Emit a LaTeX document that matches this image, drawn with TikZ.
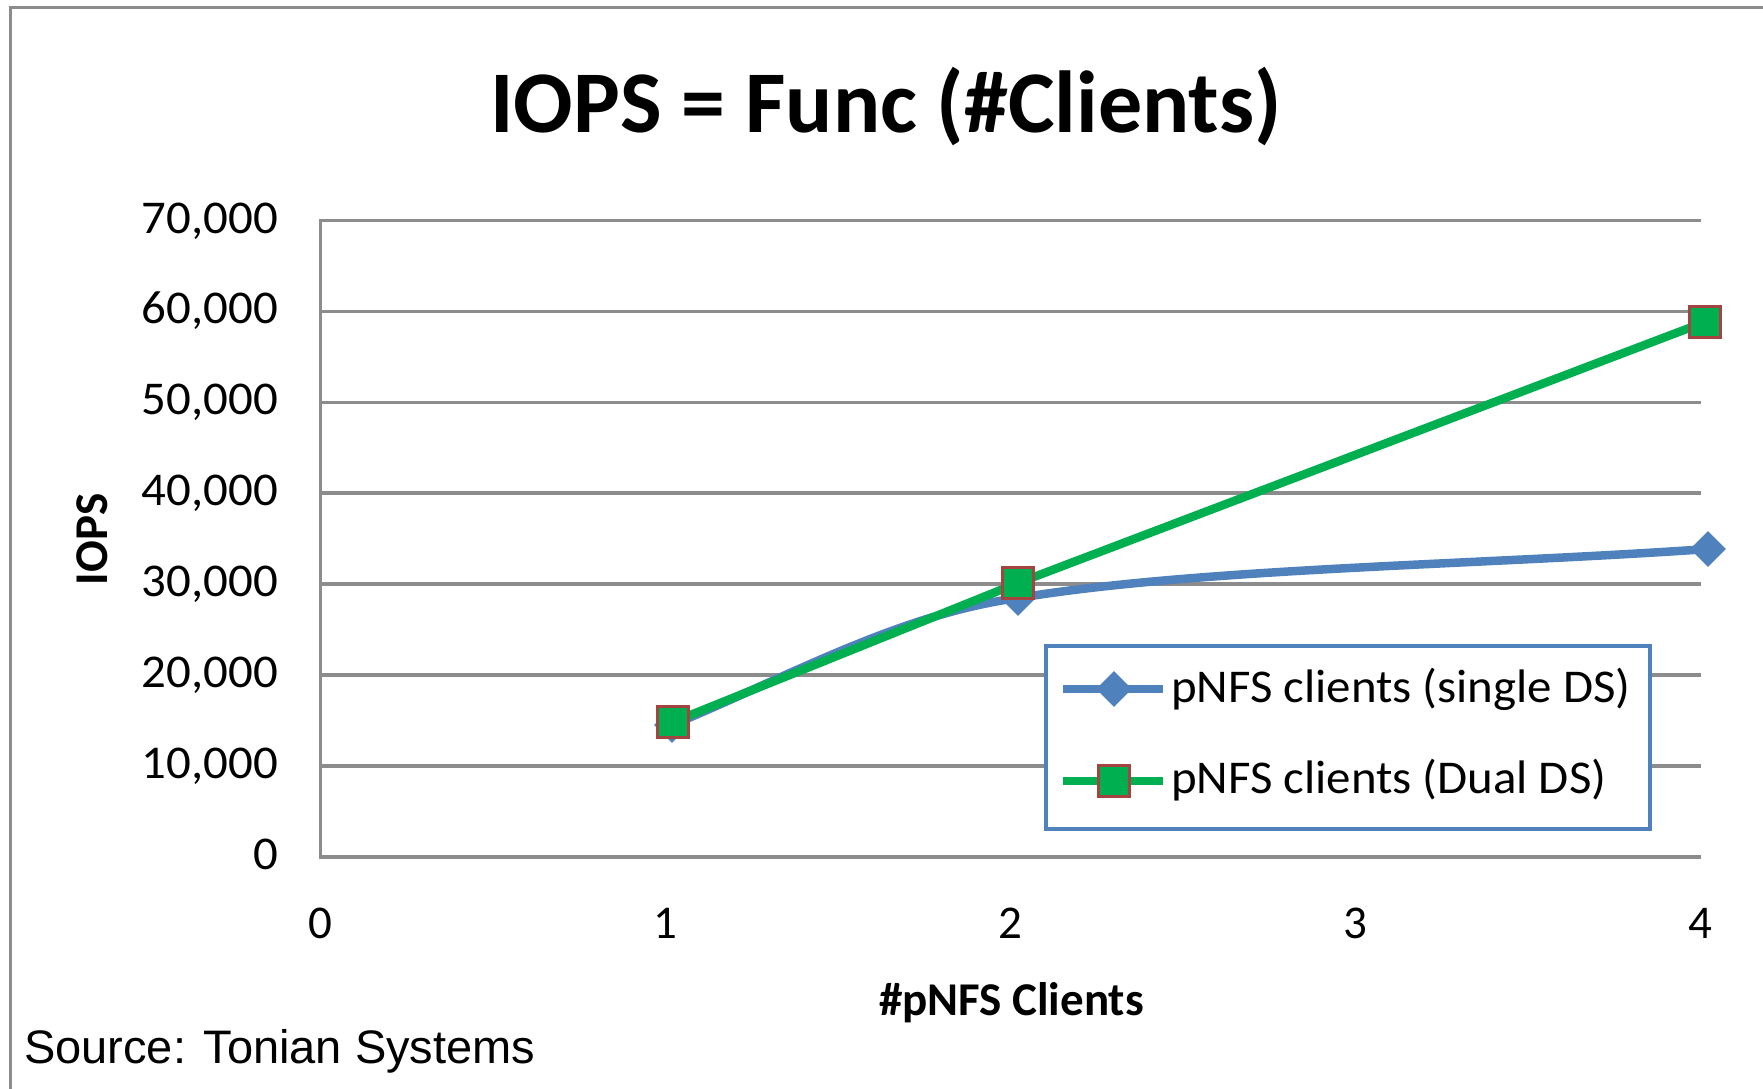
\documentclass[tikz,border=0pt]{standalone}
\usepackage{fontspec}
\setmainfont{Carlito}
\newfontfamily\arialfont{Liberation Sans}
\usetikzlibrary{shapes.geometric}
\definecolor{gridgray}{RGB}{140,140,140}
\definecolor{serblue}{RGB}{79,129,189}
\definecolor{sergreen}{RGB}{0,176,80}
\definecolor{serred}{RGB}{192,80,77}
\newcommand\setfs[1]{\fontsize{#1}{#1}\selectfont}
\newcommand\wider[1]{\scalebox{1.04}[1]{#1}}
\begin{document}
\begin{tikzpicture}[x=1pt,y=-1pt,
  gridln/.style={draw=gridgray, line width=3.5},
  ytickl/.style={anchor=base east, inner sep=0, font=\setfs{47}},
  xtickl/.style={anchor=base, inner sep=0, font=\setfs{47}},
  blueser/.style={draw=serblue, line width=8.5, line join=round},
  greenser/.style={draw=sergreen, line width=8.5, line join=round},
  markdia/.style={diamond, fill=serblue, inner sep=0, minimum size=36},
  marksq/.style={rectangle, fill=sergreen, draw=serred!85!black, line width=3, inner sep=0, minimum size=31},
  legtext/.style={anchor=base west, inner sep=0, font=\setfs{47}}]
\useasboundingbox (0,0) rectangle (1763,1088);
\fill[white] (0,0) rectangle (1763,1088);
% outer frame
\draw[draw=gridgray, line width=3] (10.5,1095) -- (10.5,7.5) -- (1770,7.5);
% title
\node[anchor=base, inner sep=0, font=\setfs{88}\bfseries] (title) at (886,132) {IOPS = Func (\#Clients)};
% gridlines and y labels
\foreach \k/\lab in {0/0,1/{10,000},2/{20,000},3/{30,000},4/{40,000},5/{50,000},6/{60,000},7/{70,000}} {
  \pgfmathsetmacro\yy{856.8-90.9*\k}
  \draw[gridln] (320.7,\yy) -- (1701,\yy);
  \node[ytickl] (yl\k) at (278,\yy+12.5) {\wider{\lab}};
}
% y axis line
\draw[gridln] (320.7,218.5) -- (320.7,858.5);
% x labels
\foreach \k in {0,1,2,3,4} {
  \node[xtickl] (xl\k) at (320.6+345*\k,938) {\k};
}
% axis titles
\node[anchor=base, inner sep=0, font=\setfs{47}\bfseries] (xtitle) at (1011.5,1015) {\#pNFS Clients};
\node[rotate=90, inner sep=0, font=\setfs{47}\bfseries] (ytitle) at (92,539.5) {IOPS};
% data points
\coordinate (b1) at (672,725);
\coordinate (b2) at (1018,598);
\coordinate (b3) at (1708,549);
\coordinate (g1) at (673,722);
\coordinate (g2) at (1018,583);
\coordinate (g3) at (1705,322);
% blue series
\draw[blueser] (b1) .. controls (790,676) and (900,614) .. (b2) .. controls (1200,568) and (1478,565) .. (b3);
\foreach \p in {b1,b2,b3} { \node[markdia] (m\p) at (\p) {}; }
% green series
\draw[greenser] (g1) -- (g2) -- (g3);
\foreach \p in {g1,g2,g3} { \node[marksq] (m\p) at (\p) {}; }
% legend
\node[draw=serblue, fill=white, line width=3.5, inner sep=0, minimum width=604, minimum height=183, anchor=north west] (legend) at (1044,644) {};
\coordinate (l1a) at (1063,689); \coordinate (l1b) at (1163,689);
\draw[blueser] (l1a) -- (l1b);
\node[markdia] (lm1) at (1114,689) {};
\node[legtext] (lt1) at (1171,702) {\wider{pNFS clients (single DS)}};
\coordinate (l2a) at (1063,781); \coordinate (l2b) at (1163,781);
\draw[greenser] (l2a) -- (l2b);
\node[marksq] (lm2) at (1114,781) {};
\node[legtext] (lt2) at (1171,793) {\wider{pNFS clients (Dual DS)}};
% source
\node[anchor=base west, inner sep=0, font=\arialfont\setfs{47}] (source) at (24,1063) {Source: Tonian Systems};
\end{tikzpicture}
\end{document}
